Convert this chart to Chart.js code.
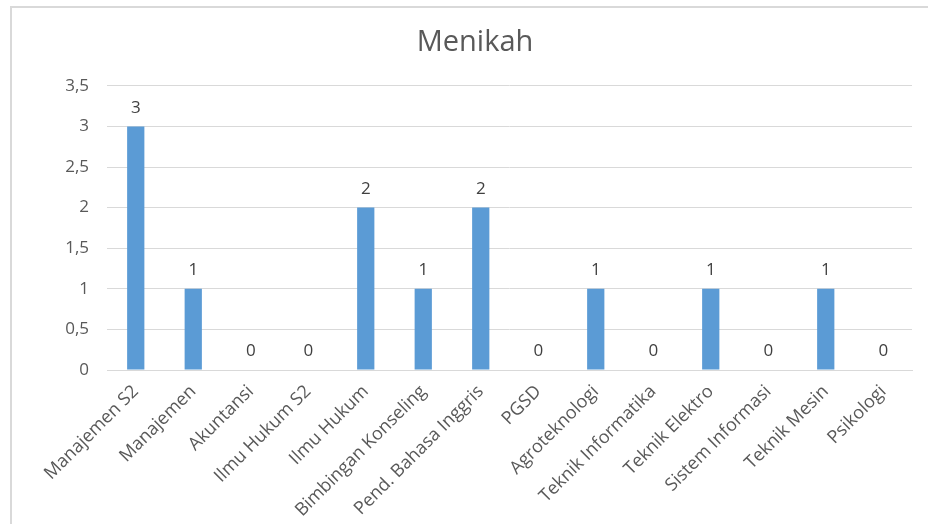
<!DOCTYPE html>
<html>
<head>
  <title>Menikah</title>
  <script src="https://cdn.jsdelivr.net/npm/chart.js"></script>
  <style>
    body { margin: 0; background: #fff; overflow: hidden; }
    #frame {
      position: absolute; left: 10px; top: 6px;
      width: 960px; height: 560px;
      border: 2px solid #d9d9d9;
    }
    #myChart { position: absolute; left: 0; top: 0; }
  </style>
  <script>
    const categories = [
      'Manajemen S2', 'Manajemen', 'Akuntansi', 'Ilmu Hukum S2', 'Ilmu Hukum',
      'Bimbingan Konseling', 'Pend. Bahasa Inggris', 'PGSD', 'Agroteknologi',
      'Teknik Informatika', 'Teknik Elektro', 'Sistem Informasi', 'Teknik Mesin', 'Psikologi'
    ];
    const values = [3, 1, 0, 0, 2, 1, 2, 0, 1, 0, 1, 0, 1, 0];

    // draws the value above each bar (no datalabels plugin available)
    const valueLabels = {
      id: 'valueLabels',
      afterDatasetsDraw(chart) {
        const ctx = chart.ctx;
        const meta = chart.getDatasetMeta(0);
        ctx.save();
        ctx.font = '17px "Open Sans", sans-serif';
        ctx.fillStyle = '#404040';
        ctx.textAlign = 'center';
        ctx.textBaseline = 'bottom';
        meta.data.forEach((bar, i) => {
          ctx.fillText(String(values[i]), bar.x, bar.y - 10);
        });
        ctx.restore();
      }
    };

    window.onload = function() {
      const ctx = document.getElementById('myChart').getContext('2d');
      new Chart(ctx, {
        type: 'bar',
        data: {
          labels: categories,
          datasets: [{
            label: 'Menikah',
            data: values,
            backgroundColor: '#5b9bd5',
            barPercentage: 0.3,
            categoryPercentage: 1
          }]
        },
        options: {
          responsive: false,
          animation: false,
          layout: { padding: { top: 0, right: 16, bottom: 0, left: 38 } },
          plugins: {
            legend: { display: false },
            tooltip: { enabled: false },
            title: {
              display: true,
              text: 'Menikah',
              color: '#595959',
              font: { family: 'Open Sans', size: 29, weight: 'normal' },
              padding: { top: 25, bottom: 26 }
            }
          },
          scales: {
            x: {
              grid: { display: false },
              border: { color: '#d9d9d9' },
              afterFit: s => { s.height = 154; },
              ticks: {
                color: '#595959',
                font: { family: 'Open Sans', size: 18 },
                maxRotation: 45,
                minRotation: 45,
                autoSkip: false
              }
            },
            y: {
              min: 0,
              max: 3.5,
              border: { display: false },
              grid: { color: '#d9d9d9', drawTicks: false },
              afterFit: s => { s.width = 69; },
              ticks: {
                stepSize: 0.5,
                color: '#595959',
                padding: 18,
                font: { family: 'Open Sans', size: 17 },
                callback: v => String(v).replace('.', ',')
              }
            }
          }
        },
        plugins: [valueLabels]
      });
    };
  </script>
</head>
<body>
<div id="frame"></div>
<canvas id="myChart" width="928" height="524"></canvas>
</body>
</html>
